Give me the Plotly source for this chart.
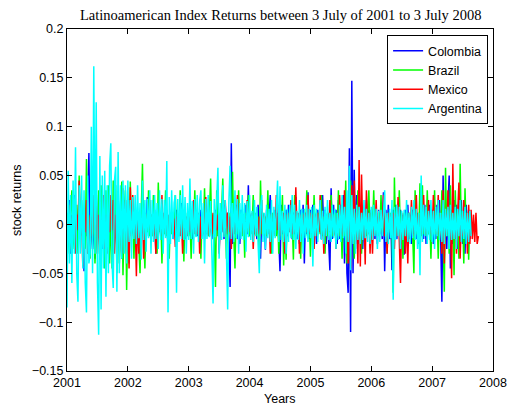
import plotly.graph_objects as go

# ---- data: returns, one value every 0.02 year from 2001.0 ----
START_YEAR = 2001.0
STEP = 0.02

colombia = [
    # 2001
    -0.012, 0.008, 0.025, -0.03, 0.01, -0.006, 0.03, -0.01, 0.008, -0.02,
    0.035, -0.008, 0.012, 0.004, -0.048, 0.01, -0.012, 0.025, 0.073, -0.03,
    0.01, -0.025, 0.006, -0.035, 0.012, -0.008, 0.03, -0.01, 0.006, -0.025,
    0.012, -0.03, 0.008, -0.01, 0.025, -0.006, 0.01, -0.03, 0.02, -0.008,
    0.012, -0.025, 0.03, -0.01, 0.006, -0.035, 0.01, -0.006, 0.025, -0.012,
    # 2002
    0.01, -0.012, 0.006, -0.008, 0.015, -0.004, 0.01, -0.022, 0.012, -0.006,
    0.008, -0.015, 0.01, -0.006, 0.012, -0.004, 0.028, -0.012, 0.006, -0.015,
    0.01, -0.008, 0.015, -0.03, 0.008, -0.006, 0.012, -0.01, 0.005, -0.015,
    0.012, -0.008, 0.015, -0.025, 0.01, -0.005, 0.012, -0.015, 0.008, -0.01,
    0.015, -0.012, 0.006, -0.01, 0.022, -0.008, 0.01, -0.015, 0.006, -0.01,
    # 2003
    0.012, -0.01, 0.006, -0.015, 0.01, -0.005, 0.015, -0.012, 0.008, -0.01,
    0.015, -0.006, 0.01, -0.015, 0.006, -0.01, 0.015, -0.008, 0.012, -0.015,
    0.006, -0.01, 0.015, -0.006, 0.01, -0.026, 0.012, -0.008, 0.01, -0.015,
    0.02, -0.01, 0.012, -0.015, -0.064, 0.083, -0.02, 0.012, -0.01, 0.02,
    -0.015, 0.01, -0.02, 0.015, -0.006, 0.01, -0.015, 0.02, -0.01, 0.04,
    # 2004
    -0.012, 0.01, -0.006, 0.015, -0.01, 0.006, -0.015, 0.02, -0.01, -0.035,
    0.012, -0.006, 0.01, -0.026, 0.015, -0.01, 0.006, 0.03, -0.012, 0.01,
    -0.006, 0.015, -0.01, 0.012, -0.015, -0.048, 0.02, -0.01, 0.006, -0.015,
    0.015, -0.01, 0.02, -0.006, 0.01, -0.015, 0.012, -0.01, 0.028, -0.015,
    0.01, -0.02, 0.015, -0.006, 0.02, -0.04, 0.012, -0.01, 0.033, -0.015,
    # 2005
    0.015, -0.01, 0.02, -0.015, 0.01, -0.02, 0.015, -0.006, 0.02, -0.015,
    0.03, -0.01, 0.015, -0.02, 0.01, -0.015, -0.047, 0.037, -0.015, 0.02,
    -0.01, 0.015, -0.02, 0.025, -0.015, 0.02, -0.025, 0.03, -0.04, 0.025,
    -0.05, -0.07, 0.078, -0.11, 0.147, -0.05, 0.056, -0.025, 0.03, -0.02,
    0.025, -0.015, 0.02, -0.025, 0.015, -0.02, 0.025, -0.01, 0.015, -0.02,
    # 2006
    0.015, -0.01, 0.02, -0.015, 0.01, -0.02, 0.015, -0.006, 0.01, -0.015,
    0.033, -0.048, 0.015, -0.01, 0.02, -0.015, 0.01, -0.047, 0.015, -0.01,
    0.02, -0.015, 0.01, -0.006, 0.015, -0.02, 0.01, -0.031, 0.015, -0.01,
    0.02, -0.015, 0.01, -0.02, 0.015, -0.01, 0.02, -0.015, 0.01, -0.02,
    0.015, -0.01, 0.025, -0.015, 0.02, -0.02, 0.015, -0.01, 0.02, -0.015,
    # 2007
    0.015, -0.02, 0.01, -0.015, 0.02, -0.01, 0.025, -0.015, -0.079, 0.05,
    -0.02, 0.015, -0.025, 0.02, 0.05, -0.045, 0.015, -0.02, 0.025, -0.015,
    0.02, -0.025, 0.015, -0.01, 0.025, -0.02, 0.015, -0.03, 0.02, -0.015,
    0.015, -0.015, 0.01,
]

brazil = [
    # 2001
    0.012, -0.008, -0.03, 0.01, 0.035, -0.012, -0.025, 0.008, 0.02, -0.03,
    0.05, -0.012, 0.025, -0.008, 0.01, -0.025, 0.067, -0.03, 0.008, -0.035,
    0.035, -0.01, 0.012, -0.04, 0.01, -0.03, 0.035, -0.012, 0.04, -0.008,
    0.012, -0.045, 0.035, -0.01, 0.04, -0.04, 0.012, -0.045, 0.045, -0.012,
    0.04, -0.05, 0.012, -0.04, 0.01, 0.044, -0.052, 0.012, 0.035, -0.067,
    # 2002
    0.012, -0.04, 0.044, -0.01, 0.012, -0.035, 0.012, -0.01, 0.008, -0.03,
    -0.05, 0.012, 0.062, -0.012, -0.045, 0.01, -0.008, 0.035, -0.012, 0.01,
    -0.012, 0.03, -0.01, 0.01, -0.03, 0.043, -0.008, 0.012, -0.04, 0.01,
    -0.01, 0.035, -0.012, 0.008, -0.035, 0.012, -0.01, 0.012, -0.008, 0.03,
    -0.012, 0.01, -0.012, 0.035, -0.01, 0.008, -0.038, 0.012, -0.01, 0.012,
    # 2003
    -0.012, 0.01, -0.035, 0.012, -0.008, 0.035, -0.012, 0.01, -0.01, 0.006,
    -0.035, 0.012, -0.01, 0.037, -0.008, 0.012, -0.012, 0.01, 0.047, -0.012,
    0.01, -0.01, -0.064, 0.035, -0.012, 0.01, -0.01, 0.012, 0.047, -0.01,
    0.008, -0.035, 0.012, -0.01, 0.012, -0.01, 0.054, -0.012, -0.045, 0.012,
    -0.01, 0.035, -0.008, 0.012, -0.012, 0.01, -0.034, 0.012, -0.008, 0.03,
    # 2004
    -0.012, 0.008, -0.01, 0.03, -0.01, 0.012, -0.012, 0.008, -0.034, 0.045,
    -0.01, 0.012, -0.01, 0.008, -0.012, 0.035, -0.008, 0.01, -0.03, 0.012,
    -0.008, 0.012, -0.012, 0.01, -0.03, 0.008, -0.01, 0.03, -0.042, 0.012,
    -0.036, 0.01, -0.008, 0.012, -0.012, 0.006, -0.036, 0.03, -0.01, 0.012,
    -0.01, 0.008, -0.035, 0.012, -0.01, 0.012, -0.012, 0.035, -0.008, 0.01,
    # 2005
    -0.033, 0.01, -0.012, 0.03, -0.008, 0.012, -0.01, 0.012, -0.01, 0.03,
    -0.012, 0.008, -0.03, 0.01, -0.012, 0.012, -0.008, 0.03, -0.012, 0.01,
    -0.01, 0.012, -0.01, 0.035, -0.012, 0.008, -0.035, 0.012, -0.012, 0.045,
    -0.04, 0.012, -0.012, 0.045, -0.01, 0.012, -0.035, 0.012, -0.01, 0.035,
    -0.01, 0.012, -0.03, 0.012, -0.008, 0.01, -0.012, 0.012, 0.035, -0.01,
    # 2006
    0.012, -0.01, 0.035, -0.01, 0.008, -0.012, 0.012, -0.01, 0.03, -0.008,
    0.012, -0.012, 0.01, -0.03, 0.012, -0.008, 0.012, -0.01, -0.07, 0.048,
    -0.012, 0.01, -0.008, 0.035, -0.012, 0.01, -0.035, 0.012, -0.01, 0.012,
    -0.008, 0.012, -0.012, 0.01, -0.01, -0.05, 0.035, -0.01, 0.012, -0.012,
    0.042, -0.012, 0.04, -0.01, 0.01, -0.012, 0.035, -0.01, 0.008, -0.035,
    # 2007
    0.012, -0.01, 0.035, -0.01, 0.012, -0.035, 0.012, -0.01, 0.035, -0.012,
    -0.069, 0.058, -0.012, 0.012, -0.03, 0.04, -0.012, 0.012, -0.052, 0.035,
    -0.01, 0.012, -0.035, 0.062, -0.012, 0.01, -0.04, 0.037, -0.01, 0.012,
    -0.036, 0.012, -0.01,
]

mexico = [
    # 2001
    0.006, -0.01, 0.02, -0.025, 0.008, -0.012, 0.025, -0.03, 0.01, -0.006,
    0.045, -0.012, 0.008, -0.043, 0.012, -0.008, 0.025, -0.03, 0.01, -0.025,
    0.008, -0.012, 0.03, -0.006, 0.025, -0.03, 0.01, -0.025, 0.006, -0.012,
    0.03, -0.025, 0.01, -0.03, 0.012, -0.008, 0.03, -0.006, 0.025, -0.03,
    0.01, -0.025, 0.03, -0.012, 0.008, -0.03, 0.037, -0.01, 0.025, -0.03,
    # 2002
    0.01, -0.045, 0.038, -0.012, 0.03, -0.01, 0.008, -0.053, 0.012, -0.03,
    0.012, -0.01, 0.008, -0.035, 0.01, -0.008, 0.012, -0.006, 0.025, -0.006,
    0.01, -0.012, 0.008, -0.03, 0.006, -0.006, 0.01, -0.012, 0.03, -0.008,
    0.012, -0.01, 0.006, -0.025, 0.01, -0.008, 0.012, -0.006, 0.006, -0.023,
    0.008, -0.008, 0.01, -0.012, 0.006, -0.03, 0.012, -0.01, 0.008, -0.012,
    # 2003
    0.012, -0.008, 0.01, -0.006, 0.025, -0.01, 0.006, -0.01, 0.012, -0.03,
    0.008, -0.012, 0.01, -0.006, 0.028, -0.01, 0.008, -0.012, 0.006, -0.01,
    0.012, -0.008, 0.012, -0.006, 0.01, -0.03, 0.01, -0.008, 0.006, -0.012,
    0.025, -0.01, 0.012, -0.008, 0.008, -0.025, 0.006, -0.01, 0.012, -0.008,
    0.03, -0.012, 0.01, -0.006, 0.012, -0.01, 0.008, -0.012, 0.025, -0.008,
    # 2004
    0.012, -0.008, 0.012, -0.025, 0.006, -0.01, 0.012, -0.01, 0.008, -0.012,
    0.025, -0.008, 0.01, -0.012, 0.01, -0.006, 0.008, -0.03, 0.012, -0.01,
    0.008, -0.012, 0.03, -0.006, 0.01, -0.012, 0.01, -0.008, 0.012, -0.03,
    0.01, -0.012, 0.012, -0.008, 0.025, -0.01, 0.012, -0.008, 0.038, -0.008,
    0.012, -0.03, 0.01, -0.012, 0.01, -0.008, 0.012, -0.008, 0.03, -0.01,
    # 2005
    0.012, -0.008, 0.01, -0.025, 0.01, -0.012, 0.012, -0.008, 0.03, -0.01,
    0.012, -0.03, 0.01, -0.012, 0.012, -0.008, 0.025, -0.01, 0.012, -0.012,
    0.01, -0.025, 0.008, -0.012, 0.03, -0.01, 0.012, -0.012, 0.035, -0.01,
    0.012, -0.04, 0.015, -0.045, 0.04, -0.012, 0.045, -0.02, 0.012, -0.04,
    0.066, -0.043, 0.051, -0.012, 0.015, -0.041, 0.035, -0.01, 0.012, -0.03,
    # 2006
    0.012, -0.03, 0.01, -0.01, 0.025, -0.012, 0.008, -0.01, 0.012, -0.008,
    0.03, -0.012, 0.01, -0.03, 0.012, -0.008, 0.01, -0.012, 0.012, -0.025,
    0.01, -0.012, 0.028, -0.01, -0.06, 0.012, -0.008, 0.01, -0.03, 0.01,
    -0.04, 0.012, -0.01, 0.025, -0.012, 0.01, -0.01, 0.03, -0.012, 0.01,
    -0.03, 0.012, -0.01, 0.03, -0.01, 0.012, -0.012, 0.025, -0.01, 0.012,
    # 2007
    -0.012, 0.03, -0.01, 0.012, -0.01, 0.03, -0.012, 0.01, -0.03, 0.035,
    -0.04, 0.012, -0.01, 0.035, -0.012, 0.01, -0.055, 0.062, -0.012, 0.01,
    -0.03, 0.012, 0.043, -0.035, 0.01, -0.012, 0.025, -0.01, 0.012, -0.03,
    0.02, -0.02, 0.015, -0.015, 0.01, -0.018, 0.012, -0.02, -0.012,
]

argentina = [
    # 2001
    -0.085, 0.055, -0.04, 0.03, -0.06, 0.045, -0.03, 0.079, -0.05, -0.079,
    0.04, -0.03, 0.05, -0.045, 0.035, -0.06, -0.09, 0.05, -0.04, -0.03,
    0.10, -0.05, 0.162, -0.03, 0.125, -0.06, -0.113, 0.07, -0.087, 0.05,
    -0.045, 0.055, -0.074, 0.04, -0.05, 0.06, 0.083, -0.04, -0.065, 0.045,
    0.059, -0.069, 0.074, -0.05, 0.04, -0.035, 0.045, -0.03, 0.04, -0.04,
    # 2002
    0.045, -0.018, 0.025, -0.035, 0.028, -0.015, 0.03, -0.02, 0.04, -0.014,
    0.022, -0.036, 0.045, -0.016, 0.025, -0.028, 0.026, -0.014, 0.035, -0.03,
    0.025, -0.018, 0.03, -0.015, 0.022, -0.025, 0.035, -0.016, 0.026, -0.03,
    0.025, -0.014, 0.065, -0.09, 0.028, -0.02, 0.035, -0.015, 0.022, 0.03,
    -0.07, 0.026, -0.018, 0.03, -0.015, 0.04, -0.016, 0.028, -0.03, 0.022,
    # 2003
    -0.016, 0.047, -0.015, 0.024, -0.03, 0.026, -0.013, 0.03, -0.018, 0.024,
    0.035, -0.015, 0.022, -0.04, 0.026, -0.015, 0.03, -0.013, 0.024, -0.025,
    -0.081, 0.026, -0.013, 0.024, 0.058, -0.035, 0.022, -0.016, 0.04, -0.013,
    0.025, -0.03, -0.087, 0.024, 0.06, -0.015, 0.022, -0.018, 0.035, -0.014,
    0.026, -0.03, 0.022, -0.015, 0.03, -0.016, 0.022, -0.028, 0.024, -0.013,
    # 2004
    0.03, -0.016, 0.014, -0.018, 0.025, -0.012, 0.018, -0.02, -0.05, 0.016,
    0.03, -0.018, 0.012, -0.025, 0.02, -0.014, 0.016, -0.018, 0.025, -0.03,
    0.018, -0.014, 0.02, 0.045, -0.018, 0.039, -0.016, 0.014, -0.018, 0.02,
    -0.03, 0.016, -0.018, 0.02, -0.014, 0.03, -0.016, 0.02, -0.025, 0.014,
    -0.016, 0.025, -0.018, 0.016, -0.03, 0.016, -0.014, 0.02, -0.018, 0.016,
    # 2005
    -0.014, 0.018, -0.043, 0.02, -0.012, 0.016, -0.018, 0.012, 0.025, -0.016,
    0.014, -0.02, 0.018, -0.012, 0.025, -0.016, 0.012, -0.018, 0.02, -0.014,
    0.016, -0.025, 0.012, -0.016, 0.02, -0.018, 0.03, -0.014, 0.018, -0.03,
    0.035, -0.018, 0.06, -0.047, 0.03, -0.02, 0.016, -0.03, 0.02, -0.016,
    0.018, -0.02, 0.012, -0.016, 0.025, -0.014, 0.016, -0.018, 0.012, -0.02,
    # 2006
    0.018, -0.016, 0.02, -0.012, 0.016, -0.025, 0.014, -0.018, 0.015, -0.012,
    0.02, 0.035, -0.018, 0.012, -0.02, 0.016, -0.014, 0.025, -0.077, 0.018,
    -0.016, 0.02, -0.012, 0.018, -0.025, 0.014, -0.016, 0.015, -0.012, 0.025,
    -0.018, 0.012, -0.02, 0.018, -0.014, 0.025, -0.016, 0.016, -0.025, 0.012,
    -0.052, 0.05, -0.018, 0.02, -0.012, 0.018, -0.02, 0.014, -0.016, 0.025,
    # 2007
    -0.018, 0.014, -0.025, 0.018, -0.012, 0.025, -0.016, 0.012, -0.018, 0.025,
    -0.02, 0.016, -0.012, 0.018, -0.025, 0.02, -0.016, 0.012, -0.015, 0.018,
    -0.025, 0.016, -0.012, 0.025, -0.018, 0.014, -0.015, 0.018, -0.02, 0.012,
    -0.018, 0.014, -0.012,
]

series_names = ["Colombia", "Brazil", "Mexico", "Argentina"]
series_values = [colombia, brazil, mexico, argentina]
series_colors = ["#0000ff", "#00ff00", "#ff0000", "#00ffff"]

x_tick_vals = [2001, 2002, 2003, 2004, 2005, 2006, 2007, 2008]
x_tick_text = ["2001", "2002", "2003", "2004", "2005", "2006", "2007", "2008"]
y_tick_vals = [-0.15, -0.1, -0.05, 0, 0.05, 0.1, 0.15, 0.2]
y_tick_text = ["\u22120.15", "\u22120.1", "\u22120.05", "0", "0.05", "0.1", "0.15", "0.2"]

TITLE = "Latinoamerican Index Returns between 3 July of 2001 to 3 July 2008"

fig = go.Figure()
for name, vals, col in zip(series_names, series_values, series_colors):
    t = [START_YEAR + STEP * i for i in range(len(vals))]
    fig.add_trace(go.Scatter(x=t, y=vals, mode="lines", name=name,
                             line=dict(color=col, width=1.5)))

axis_font = dict(family="Liberation Sans, Arial, sans-serif", size=12.5, color="black")

fig.update_layout(
    width=519, height=410,
    margin=dict(l=67, r=19, t=29, b=39),
    paper_bgcolor="white", plot_bgcolor="white",
    showlegend=True,
    legend=dict(x=0.9885, y=0.982, xanchor="right", yanchor="top",
                bgcolor="white", bordercolor="black", borderwidth=1,
                font=axis_font, tracegroupgap=0),
    font=axis_font,
)
fig.update_xaxes(range=[2001, 2008], tickvals=x_tick_vals, ticktext=x_tick_text,
                 showgrid=False, zeroline=False, showline=True, linecolor="black",
                 linewidth=1, mirror="ticks", ticks="inside", ticklen=5,
                 tickcolor="black", tickfont=axis_font)
fig.update_yaxes(range=[-0.15, 0.2], tickvals=y_tick_vals, ticktext=y_tick_text,
                 showgrid=False, zeroline=False, showline=True, linecolor="black",
                 linewidth=1, mirror="ticks", ticks="inside", ticklen=5,
                 tickcolor="black", tickfont=axis_font)

fig.add_annotation(text=TITLE, xref="paper", yref="paper", x=0.5, y=1,
                   yshift=14, showarrow=False, xanchor="center", yanchor="middle",
                   font=dict(family="Liberation Serif, Times New Roman, serif", size=14.5, color="black"))
fig.add_annotation(text="Years", xref="paper", yref="paper", x=0.5, y=0,
                   yshift=-28, showarrow=False, xanchor="center", yanchor="middle",
                   font=axis_font)
fig.add_annotation(text="stock returns", xref="paper", yref="paper", x=0, y=0.5,
                   xshift=-50, showarrow=False, xanchor="center", yanchor="middle",
                   textangle=-90, font=axis_font)

fig.write_html("out.html")
